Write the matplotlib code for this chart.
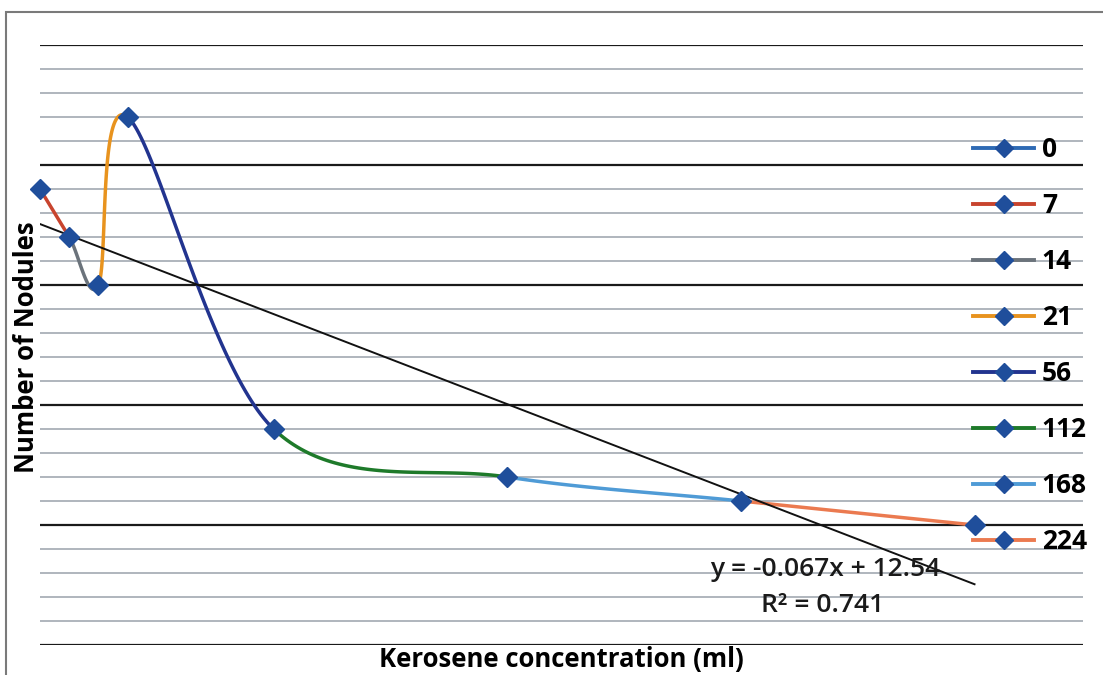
import numpy as np
import matplotlib.pyplot as plt
from matplotlib.lines import Line2D
from matplotlib.patches import Rectangle
from matplotlib.ticker import MultipleLocator, NullFormatter

# --- data ---
concentration = [0, 7, 14, 21, 56, 112, 168, 224]
nodules = [14, 12, 10, 17, 4, 2, 1, 0]
categories = ['0', '7', '14', '21', '56', '112', '168', '224']

# linear trendline as reported on the chart
trend_slope = -0.067
trend_intercept = 12.54
trend_r2 = 0.741

marker_color = '#1F4E9B'
legend_colors = ['#2E6AB4', '#C8442E', '#6B737B', '#E8931E',
                 '#22348F', '#1E7A2A', '#4F9BD6', '#EB7A50']

plt.rcParams['font.family'] = ['Open Sans', 'DejaVu Sans']

fig = plt.figure(figsize=(11.03, 6.75), dpi=100)
W, H = 1103, 675


def fpos(x, y):
    # pixel position (from top-left) -> figure fraction
    return x / W, 1 - y / H


ax = fig.add_axes([40 / W, 30 / H, 1043 / W, 600 / H])
ax.set_xlim(0, 250)
ax.set_ylim(-5, 20)

# outer chart border
fig.patches.append(Rectangle((6 / W, -0.2), 1.5, (675 - 12) / H + 0.2,
                             transform=fig.transFigure, fill=False,
                             edgecolor='#7a7a7a', lw=1.5, zorder=0))

# gridlines: black every 5, grey every 1
ax.yaxis.set_major_locator(MultipleLocator(5))
ax.yaxis.set_minor_locator(MultipleLocator(1))
ax.yaxis.set_major_formatter(NullFormatter())
ax.set_xticks([])
ax.tick_params(axis='y', which='both', length=0)
ax.grid(True, axis='y', which='major', color='#1a1a1a', lw=1.6)
ax.grid(True, axis='y', which='minor', color='#a9b0b8', lw=1.3)
ax.set_axisbelow(True)
for s in ax.spines.values():
    s.set_visible(False)

# Excel-style smoothed line: cubic Bezier segments in screen units
sx, sy = 1043 / 250, 600 / 25


def bezier_segments(xs, ys, n=60):
    pts = np.column_stack([np.asarray(xs) * sx, np.asarray(ys) * sy])
    out = []
    for i in range(len(pts) - 1):
        p1, p2 = pts[i], pts[i + 1]
        p0 = pts[i - 1] if i > 0 else p1
        p3 = pts[i + 2] if i + 2 < len(pts) else p2
        d12 = np.linalg.norm(p2 - p1)
        d02 = np.linalg.norm(p2 - p0)
        d13 = np.linalg.norm(p3 - p1)
        f1 = min(1 / 6, 0.5 * d12 / d02) if d02 > 0 else 0
        f2 = min(1 / 6, 0.5 * d12 / d13) if d13 > 0 else 0
        c1 = p1 + (p2 - p0) * f1
        c2 = p2 - (p3 - p1) * f2
        t = np.linspace(0, 1, n)[:, None]
        b = ((1 - t) ** 3 * p1 + 3 * (1 - t) ** 2 * t * c1
             + 3 * (1 - t) * t ** 2 * c2 + t ** 3 * p2)
        out.append((b[:, 0] / sx, b[:, 1] / sy))
    return out


for (bx, by), col in zip(bezier_segments(concentration, nodules), legend_colors[1:]):
    ax.plot(bx, by, color=col, lw=2.5, solid_capstyle='round', zorder=3)

ax.plot(concentration, nodules, ls='none', marker='D', ms=10.5,
        color=marker_color, zorder=5, clip_on=False)

# trendline
tx = np.array([concentration[0], concentration[-1]])
ax.plot(tx, trend_slope * tx + trend_intercept, color='#111111', lw=1.4, zorder=4)
fig.text(*fpos(825, 570), f'y = {trend_slope}x + {trend_intercept}',
         fontsize=19, fontweight='semibold', ha='center', va='center',
         color='#1a1a1a')
fig.text(*fpos(823, 606), f'R² = {trend_r2}',
         fontsize=19, fontweight='semibold', ha='center', va='center',
         color='#1a1a1a')

# legend
handles = [Line2D([0], [0], color=c, lw=2.8, marker='D', ms=9,
                  markerfacecolor=marker_color, markeredgecolor=marker_color)
           for c in legend_colors]
leg = fig.legend(handles, categories, loc='upper left',
                 bbox_to_anchor=fpos(960, 123), bbox_transform=fig.transFigure,
                 frameon=False, handlelength=2.3, handletextpad=0.3,
                 labelspacing=1.1, borderpad=0,
                 prop={'size': 19, 'weight': 'bold'})

fig.text(*fpos(561, 660), 'Kerosene concentration (ml)', fontsize=18.5,
         fontweight='bold', ha='center', va='center')
fig.text(*fpos(27, 347), 'Number of Nodules', fontsize=18.5, fontweight='bold',
         ha='center', va='center', rotation=90)

fig.savefig('out.png', dpi=100)
